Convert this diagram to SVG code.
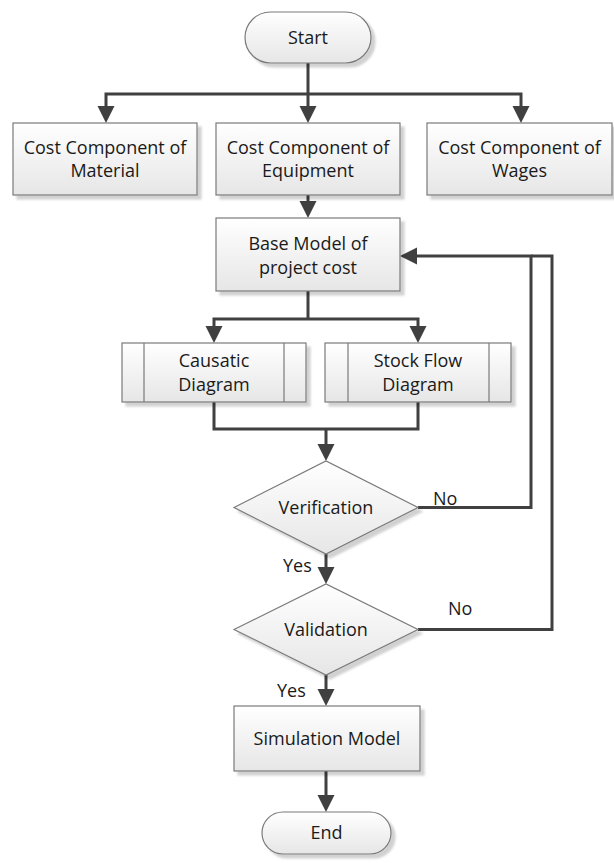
<svg xmlns="http://www.w3.org/2000/svg" width="614" height="863" viewBox="0 0 614 863">
<defs>
  <linearGradient id="fillGrad" x1="0" y1="0" x2="0" y2="1">
    <stop offset="0" stop-color="#ffffff"/>
    <stop offset="1" stop-color="#e6e6e6"/>
  </linearGradient>
  <filter id="shadow" x="-10%" y="-10%" width="125%" height="130%">
    <feGaussianBlur in="SourceAlpha" stdDeviation="1.2" result="b"/>
    <feOffset in="b" dx="4" dy="4" result="o"/>
    <feFlood flood-color="#000000" flood-opacity="0.18"/>
    <feComposite in2="o" operator="in" result="s"/>
    <feMerge><feMergeNode in="s"/><feMergeNode in="SourceGraphic"/></feMerge>
  </filter>
  <marker id="arrow" markerUnits="userSpaceOnUse" markerWidth="18" markerHeight="18" viewBox="0 0 18 18" refX="12" refY="8.5" orient="auto">
    <path d="M0,0 L17,8.5 L0,17 Z" fill="#404040"/>
  </marker>
  <style>
    .shape { fill: url(#fillGrad); stroke: #7a7a7a; stroke-width: 1.2; filter: url(#shadow); }
    .inner { fill: none; stroke: #7a7a7a; stroke-width: 1.2; }
    .conn { fill: none; stroke: #404040; stroke-width: 3; }
    .arr { marker-end: url(#arrow); }
    text { font-family: "Open Sans", "Noto Sans", "Liberation Sans", sans-serif; font-size: 18px; fill: #1a1a1a; }
    .c { text-anchor: middle; }
  </style>
</defs>

<g id="connectors">
  <path class="conn arr" d="M308,63 V118"/>
  <path class="conn arr" d="M308,94 H106 V118"/>
  <path class="conn arr" d="M308,94 H521 V118"/>
  <path class="conn arr" d="M308,195 V213"/>
  <path class="conn" d="M308,291 V319"/>
  <path class="conn arr" d="M308,319 H214 V338"/>
  <path class="conn arr" d="M308,319 H418 V338"/>
  <path class="conn" d="M214,402 V429 H418 V402"/>
  <path class="conn arr" d="M326,429 V456"/>
  <path class="conn arr" d="M326,554 V579"/>
  <path class="conn arr" d="M326,675 V701"/>
  <path class="conn arr" d="M326,771 V807"/>
  <path class="conn" d="M418,629.5 H552 V256 H531"/>
  <path class="conn arr" d="M418,507.5 H531 V256 H405"/>
</g>

<g id="start">
  <rect class="shape" x="245" y="12" width="126" height="51" rx="25.5" ry="25.5"/>
  <text class="c" x="308" y="44">Start</text>
</g>

<g id="material">
  <rect class="shape" x="13" y="123" width="184" height="72"/>
  <text class="c" x="105" y="154">Cost Component of</text>
  <text class="c" x="105" y="177">Material</text>
</g>

<g id="equipment">
  <rect class="shape" x="216" y="123" width="184" height="72"/>
  <text class="c" x="308" y="154">Cost Component of</text>
  <text class="c" x="308" y="177">Equipment</text>
</g>

<g id="wages">
  <rect class="shape" x="427" y="123" width="185" height="72"/>
  <text class="c" x="519.5" y="154">Cost Component of</text>
  <text class="c" x="519.5" y="177">Wages</text>
</g>

<g id="base-model">
  <rect class="shape" x="216" y="218" width="184" height="73"/>
  <text class="c" x="308" y="250">Base Model of</text>
  <text class="c" x="308" y="274">project cost</text>
</g>

<g id="causatic">
  <rect class="shape" x="122" y="343" width="184" height="59"/>
  <line class="inner" x1="144" y1="343" x2="144" y2="402"/>
  <line class="inner" x1="284" y1="343" x2="284" y2="402"/>
  <text class="c" x="214" y="367">Causatic</text>
  <text class="c" x="214" y="391">Diagram</text>
</g>

<g id="stock-flow">
  <rect class="shape" x="325" y="343" width="186" height="59"/>
  <line class="inner" x1="348" y1="343" x2="348" y2="402"/>
  <line class="inner" x1="489" y1="343" x2="489" y2="402"/>
  <text class="c" x="418" y="367">Stock Flow</text>
  <text class="c" x="418" y="391">Diagram</text>
</g>

<g id="verification">
  <polygon class="shape" points="234,507.5 326,461 418,507.5 326,554"/>
  <text class="c" x="326" y="514">Verification</text>
</g>

<g id="validation">
  <polygon class="shape" points="234,629.5 326,584 418,629.5 326,675"/>
  <text class="c" x="326" y="636">Validation</text>
</g>

<g id="simulation">
  <rect class="shape" x="234" y="706" width="186" height="65"/>
  <text class="c" x="327" y="745">Simulation Model</text>
</g>

<g id="end">
  <rect class="shape" x="262" y="812" width="129" height="42" rx="21" ry="21"/>
  <text class="c" x="326.5" y="839">End</text>
</g>

<g id="labels">
  <text x="433" y="505">No</text>
  <text x="448" y="615">No</text>
  <text x="283" y="572">Yes</text>
  <text x="277" y="697">Yes</text>
</g>
</svg>
